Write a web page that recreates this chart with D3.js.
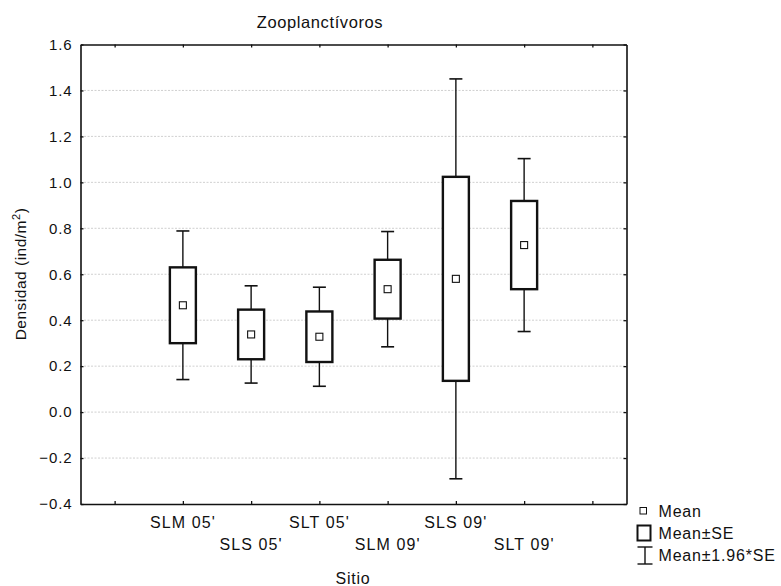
<!DOCTYPE html>
<html>
<head>
<meta charset="utf-8">
<script src="https://cdn.jsdelivr.net/npm/d3@7"></script>
<style>
  body { margin: 0; background: #fff; }
  text { font-family: "Liberation Sans", Arial, sans-serif; fill: #111; }
</style>
</head>
<body>
<svg id="surface" width="781" height="586"></svg>
<script>
// chart data
const sites = ["SLM 05'", "SLS 05'", "SLT 05'", "SLM 09'", "SLS 09'", "SLT 09'"];
const means = [0.465, 0.338, 0.328, 0.535, 0.580, 0.727];
const stdErrs = [0.165, 0.108, 0.110, 0.128, 0.444, 0.192];
const yTicks = [-0.4, -0.2, 0.0, 0.2, 0.4, 0.6, 0.8, 1.0, 1.2, 1.4, 1.6];
const legendLabels = ["Mean", "Mean±SE", "Mean±1.96*SE"];

const svg = d3.select("#surface");
// plot frame
const plotL = 80.5, plotR = 626.5, plotT = 44.5, plotB = 504;

// 8 slots on the x axis, first and last left empty
const x = d3.scaleLinear().domain([-1.5, sites.length + 0.5]).range([plotL, plotR]);
const y = d3.scaleLinear().domain([-0.4, 1.6]).range([plotB, plotT]);
const slots = d3.range(-1, sites.length + 1);

// grid lines
svg.append("g").selectAll("line")
  .data(yTicks.filter(t => t > -0.4 && t < 1.6))
  .join("line")
  .attr("x1", plotL).attr("x2", plotR)
  .attr("y1", d => y(d)).attr("y2", d => y(d))
  .attr("stroke", "#c4c4c4").attr("stroke-dasharray", "2,1.5").attr("stroke-width", 0.8);

// axes (ticks inward)
const fmt = d3.format(".1f");
svg.append("g").attr("transform", `translate(${plotL},0)`)
  .call(d3.axisLeft(y).tickValues(yTicks).tickSizeInner(-3).tickSizeOuter(0).tickPadding(8).tickFormat(fmt))
  .call(g => g.selectAll("text").attr("font-size", 15).attr("letter-spacing", 0.9)
    .style("font-family", "Liberation Sans, Arial"));
svg.append("g").attr("transform", `translate(${plotR},0)`)
  .call(d3.axisRight(y).tickValues(yTicks).tickSizeInner(-3).tickSizeOuter(0).tickFormat(""));
svg.append("g").attr("transform", `translate(0,${plotB})`)
  .call(d3.axisBottom(x).tickValues(slots).tickSizeInner(-3).tickSizeOuter(0).tickFormat(""));
svg.append("g").attr("transform", `translate(0,${plotT})`)
  .call(d3.axisTop(x).tickValues(slots).tickSizeInner(-3).tickSizeOuter(0).tickFormat(""));
svg.selectAll(".domain").attr("stroke", "#111").attr("stroke-width", 1.6);
svg.selectAll(".tick line").attr("stroke", "#111").attr("stroke-width", 1.3);

// x category labels, staggered in two rows
svg.append("g").selectAll("text")
  .data(sites)
  .join("text")
  .attr("x", (d, i) => x(i))
  .attr("y", (d, i) => i % 2 === 0 ? 528 : 549.5)
  .attr("text-anchor", "middle")
  .attr("font-size", 16).attr("letter-spacing", 1.1)
  .text(d => d);

// boxes and whiskers
const boxW = 26, capW = 13;
const grp = svg.append("g").selectAll("g")
  .data(sites.map((s, i) => ({ s, i, m: means[i], se: stdErrs[i] })))
  .join("g");

grp.append("line")
  .attr("x1", d => x(d.i)).attr("x2", d => x(d.i))
  .attr("y1", d => y(d.m + 1.96 * d.se)).attr("y2", d => y(d.m - 1.96 * d.se))
  .attr("stroke", "#111").attr("stroke-width", 1.4);
grp.selectAll(".cap")
  .data(d => [d.m + 1.96 * d.se, d.m - 1.96 * d.se].map(v => ({ v, i: d.i })))
  .join("line").attr("class", "cap")
  .attr("x1", d => x(d.i) - capW / 2).attr("x2", d => x(d.i) + capW / 2)
  .attr("y1", d => y(d.v)).attr("y2", d => y(d.v))
  .attr("stroke", "#111").attr("stroke-width", 1.6);
grp.append("rect")
  .attr("x", d => x(d.i) - boxW / 2)
  .attr("y", d => y(d.m + d.se))
  .attr("width", boxW)
  .attr("height", d => y(d.m - d.se) - y(d.m + d.se))
  .attr("fill", "#fff").attr("stroke", "#111").attr("stroke-width", 2.4);
grp.append("rect")
  .attr("x", d => x(d.i) - 3.5).attr("y", d => y(d.m) - 3.5)
  .attr("width", 7).attr("height", 7)
  .attr("fill", "#fff").attr("stroke", "#111").attr("stroke-width", 1.1);

// titles
svg.append("text").attr("x", 320).attr("y", 28).attr("text-anchor", "middle")
  .attr("font-size", 16.5).attr("letter-spacing", 0.6).text("Zooplanctívoros");
svg.append("text").attr("x", 353).attr("y", 584).attr("text-anchor", "middle")
  .attr("font-size", 16).attr("letter-spacing", 0.8).text("Sitio");
const yl = svg.append("text")
  .attr("transform", "translate(26,274) rotate(-90)")
  .attr("text-anchor", "middle").attr("font-size", 15.5).attr("letter-spacing", 0.5);
yl.append("tspan").text("Densidad (ind/m");
yl.append("tspan").attr("dy", -6).attr("font-size", 11).text("2");
yl.append("tspan").attr("dy", 6).text(")");

// legend
const lg = svg.append("g");
lg.append("rect").attr("x", 640).attr("y", 507.5).attr("width", 6.5).attr("height", 6.5)
  .attr("fill", "#fff").attr("stroke", "#111").attr("stroke-width", 1);
lg.append("rect").attr("x", 637.5).attr("y", 525.5).attr("width", 13).attr("height", 15)
  .attr("fill", "#fff").attr("stroke", "#111").attr("stroke-width", 2);
lg.append("line").attr("x1", 645).attr("x2", 645).attr("y1", 547).attr("y2", 564).attr("stroke", "#111").attr("stroke-width", 1.4);
lg.append("line").attr("x1", 637.5).attr("x2", 652.5).attr("y1", 547).attr("y2", 547).attr("stroke", "#111").attr("stroke-width", 1.4);
lg.append("line").attr("x1", 637.5).attr("x2", 652.5).attr("y1", 564).attr("y2", 564).attr("stroke", "#111").attr("stroke-width", 1.4);
lg.selectAll(".lt")
  .data(legendLabels)
  .join("text").attr("class", "lt")
  .attr("x", 658.5)
  .attr("y", (d, i) => 517 + i * 22)
  .attr("font-size", 16).attr("letter-spacing", 0.8)
  .text(d => d);
</script>
</body>
</html>
